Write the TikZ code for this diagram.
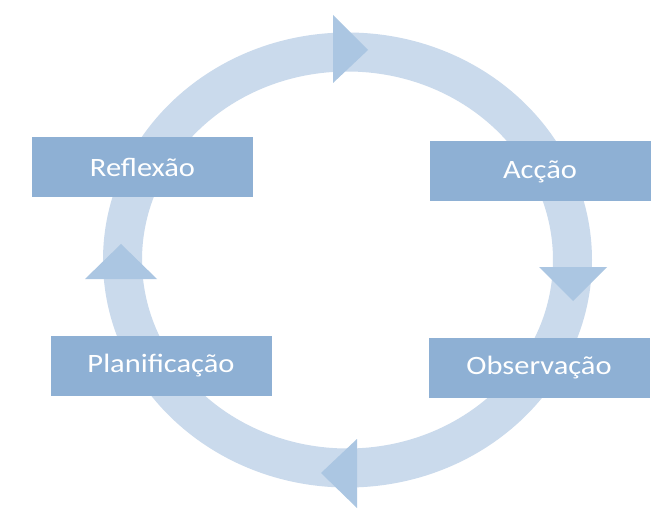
\documentclass[tikz,border=0pt]{standalone}
\usepackage{fontspec}
\setmainfont{Carlito}
\newfontfamily\stagefont[FakeStretch=1.15]{Carlito}
\definecolor{ringc}{RGB}{202,218,236}
\definecolor{arrowc}{RGB}{171,198,226}
\definecolor{boxc}{RGB}{142,176,212}
\begin{document}
\begin{tikzpicture}[x=1pt,y=-1pt,
  stagebox/.style={fill=boxc, draw=none, minimum width=221pt, minimum height=60pt,
    inner sep=0pt, text=white, font=\stagefont\fontsize{26.5}{32}\selectfont},
  ringtip/.style={fill=arrowc, draw=none}]
\fill[white] (0,0) rectangle (654,516);
\useasboundingbox (0,0) rectangle (654,516);
% ring
\draw[ringc, line width=39pt] (347.5,260) ellipse [x radius=225, y radius=208];
% arrowheads on the ring
\fill[ringtip] (333,15) -- (333,83) -- (368,50) -- cycle;
\fill[ringtip] (539,267) -- (607,267) -- (573,301) -- cycle;
\fill[ringtip] (357,439) -- (357,508) -- (321,473) -- cycle;
\fill[ringtip] (85,279) -- (157,279) -- (121,244) -- cycle;
% stages
\node[stagebox] (refl) at (142.5,167.5) {Reflexão};
\node[stagebox] (accao) at (540,171.5) {Acção};
\node[stagebox] (plan) at (161,365.5) {Planificação};
\node[stagebox] (obs) at (539,367.5) {Observação};
\end{tikzpicture}
\end{document}
